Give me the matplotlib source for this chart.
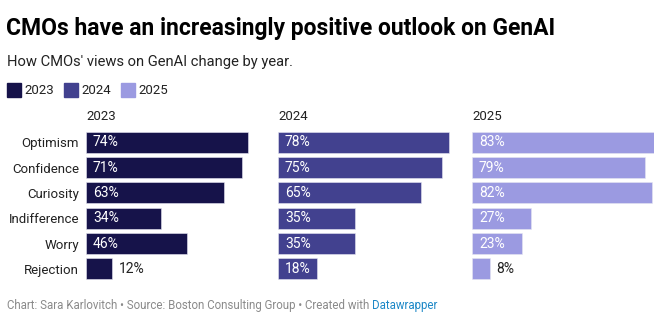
import matplotlib.pyplot as plt
from matplotlib.patches import Rectangle

plt.rcParams["font.family"] = ["Roboto", "DejaVu Sans"]

categories = ["Optimism", "Confidence", "Curiosity", "Indifference", "Worry", "Rejection"]
years = ["2023", "2024", "2025"]
values_2023 = [74, 71, 63, 34, 46, 12]
values_2024 = [78, 75, 65, 35, 35, 18]
values_2025 = [83, 79, 82, 27, 23, 8]
colors = ["#16134a", "#42418f", "#9b9ae1"]

W, H = 670, 326
fig = plt.figure(figsize=(W / 100, H / 100), dpi=100)


def px(x, y):
    return x / W, 1 - y / H


# title, subtitle
fig.text(*px(6, 28), "CMOs have an increasingly positive outlook on GenAI",
         fontsize=16.5, fontweight="bold", color="#000000", va="center")
fig.text(*px(7, 62), "How CMOs' views on GenAI change by year.",
         fontsize=10.6, color="#222222", va="center")

# legend
for i, (yr, c) in enumerate(zip(years, colors)):
    x0 = 7 + i * 57
    fig.patches.append(Rectangle(px(x0, 97), 14 / W, 14 / H, color=c,
                                 transform=fig.transFigure))
    fig.text(*px(x0 + 17, 90), yr, fontsize=9.5, color="#222222", va="center")

# panels
lefts = [86, 278, 472]
top, bottom = 129.5, 281.5
all_values = [values_2023, values_2024, values_2025]
for p, (vals, c, yr) in enumerate(zip(all_values, colors, years)):
    l, b = px(lefts[p], bottom)
    ax = fig.add_axes([l, b, 182 / W, (bottom - top) / H])
    ypos = list(range(len(categories)))
    ax.barh(ypos, vals, height=0.82, color=c, edgecolor="#e6e6f2", linewidth=0.4)
    ax.set_xlim(0, 83)
    ax.set_ylim(len(categories) - 0.5, -0.5)
    for y, v in zip(ypos, vals):
        if v >= 15:
            ax.annotate(f"{v}%", (0, y), xytext=(5, 0), textcoords="offset points",
                        va="center", ha="left", color="white", fontsize=10)
        else:
            ax.annotate(f"{v}%", (v, y), xytext=(5, 0), textcoords="offset points",
                        va="center", ha="left", color="#222222", fontsize=10)
    ax.set_xticks([])
    if p == 0:
        ax.set_yticks(ypos)
        ax.set_yticklabels(categories, fontsize=9.5, color="#222222")
        ax.tick_params(axis="y", length=0, pad=5)
    else:
        ax.set_yticks([])
    for s in ax.spines.values():
        s.set_visible(False)
    ax.patch.set_alpha(0)
    fig.text(*px(lefts[p], 117), yr, fontsize=9.5, color="#222222", va="center")

# footer
renderer = fig.canvas.get_renderer()
t = fig.text(*px(7, 306), "Chart: Sara Karlovitch \u2022 Source: Boston Consulting Group \u2022 Created with ",
             fontsize=8.3, color="#8a8a8a", va="center")
bb = t.get_window_extent(renderer)
fig.text(bb.x1 / fig.bbox.width, 1 - 306 / H, "Datawrapper",
         fontsize=8.3, color="#1d88c7", va="center")

fig.savefig("out.png", dpi=100, facecolor="white")
